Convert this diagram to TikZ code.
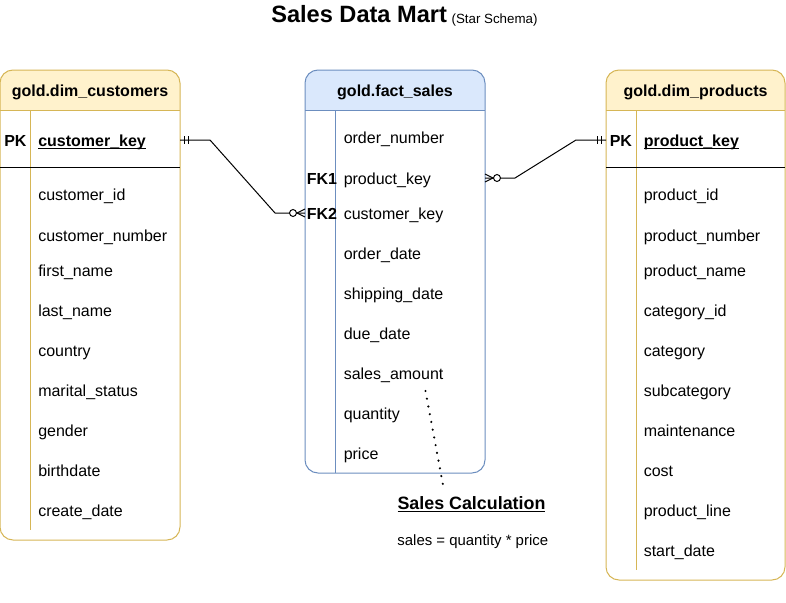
\documentclass[tikz,border=0pt]{standalone}
\usepackage{fontspec}
\setmainfont{Liberation Sans}
\usetikzlibrary{positioning,calc,fit}
\definecolor{dimfill}{HTML}{FFF2CC}
\definecolor{dimline}{HTML}{D6B656}
\definecolor{factfill}{HTML}{DAE8FC}
\definecolor{factline}{HTML}{6C8EBF}
\tikzset{
  tbl/.style      = {draw, line width=0.75pt, rounded corners=9.75pt,
                     inner sep=0pt, outer sep=0pt},
  field/.style    = {anchor=west, inner sep=0pt, text height=11pt, text depth=1.5pt,
                     font=\fontsize{12}{14}\selectfont},
  keytag/.style   = {field, font=\fontsize{12}{14}\selectfont\bfseries},
  head/.style     = {inner sep=0pt, text height=11pt, text depth=1.5pt,
                     font=\fontsize{12}{14}\selectfont\bfseries},
  rel/.style      = {line width=0.75pt},
  notelink/.style = {line width=1.8pt, line cap=round, dash pattern=on 0pt off 5.9pt},
}
% underline that sits just under the baseline
\newcommand{\keyline}[1]{\setbox0\hbox{#1}\rlap{\copy0}\rule[-2pt]{\wd0}{0.9pt}}
% relation ends: #1 point on the table border, #2 = +1 / -1 pointing away from it
\newcommand{\mandone}[2]{%
  \foreach \d in {4.5,8.5} \draw[rel] ($(#1)+(#2*\d,-4)$) -- ++(0,8);
}
\newcommand{\zeromany}[2]{%
  \draw[rel] ($(#1)+(0,-4)$) -- ($(#1)+(#2*8,0)$) -- ($(#1)+(0,4)$);
  \draw[rel, fill=white] ($(#1)+(#2*12,0)$) circle (2.6pt);
}

\begin{document}
\begin{tikzpicture}[x=0.75pt, y=-0.75pt]
    \useasboundingbox (0,0) rectangle (786,603);

    \node[anchor=base west, inner sep=0pt, font=\fontsize{17.7}{20}\selectfont\bfseries]
         (title) at (271,22) {Sales Data Mart};
    \node[base right=3pt of title, inner sep=0pt, yshift=-0.75pt,
          font=\fontsize{10}{12}\selectfont] (subtitle) {(Star Schema)};

    % header bands
    \foreach \l/\r/\col in {0/180/dim, 305/485/fact, 606/785/dim}{
      \fill[\col fill, rounded corners=9.75pt] (\l,70) rectangle (\r,110);
      \fill[\col fill] (\l,90) rectangle (\r,110);
      \draw[\col line, rel] (\l,110) -- (\r,110);
    }

    % table frames
    \node[tbl, draw=dimline, fit={(0,70) (180,540)}] (cust) {};
    \node[tbl, draw=factline, fit={(305,70) (485,473)}] (fact) {};
    \node[tbl, draw=dimline, fit={(606,70) (785,580)}] (prod) {};

    \draw[dimline, rel] (30,110) -- (30,530);
    \draw[factline, rel] (335.5,110) -- (335.5,473);
    \draw[dimline, rel] (636,110) -- (636,570);
    \draw[rel] (0,167.5) -- (180,167.5);
    \draw[rel] (606,167.5) -- (785,167.5);

    \node[head] (cust-head) at (90,90.5) {gold.dim\_customers};
    \node[head] (fact-head) at (395,90.5) {gold.fact\_sales};
    \node[head] (prod-head) at (695.5,90.5) {gold.dim\_products};

    % customers
    \node[keytag] (cust-pk) at (4,140) {PK};
    \node[field] (cust-key) at (38,140) {\keyline{\bfseries customer\_key}};
    \foreach \y/\t [count=\i] in {194.5/customer\_id, 235/customer\_number,
        270/first\_name, 310/last\_name, 350/country, 390/marital\_status,
        430/gender, 470/birthdate, 510/create\_date}
      \node[field] (cust-\i) at (38,\y) {\t};

    % facts
    \foreach \y/\t [count=\i] in {137.5/order\_number, 178/product\_key,
        213/customer\_key, 253/order\_date, 293/shipping\_date, 333/due\_date,
        373/sales\_amount, 413/quantity, 453/price}
      \node[field] (fact-\i) at (343.5,\y) {\t};
    \node[keytag] (fact-fk1) at (306.5,178) {FK1};
    \node[keytag] (fact-fk2) at (306.5,213) {FK2};

    % products
    \node[keytag] (prod-pk) at (609.5,140) {PK};
    \node[field] (prod-key) at (643.5,140) {\keyline{\bfseries product\_key}};
    \foreach \y/\t [count=\i] in {194.5/product\_id, 235/product\_number,
        270/product\_name, 310/category\_id, 350/category, 390/subcategory,
        430/maintenance, 470/cost, 510/product\_line, 550/start\_date}
      \node[field] (prod-\i) at (643.5,\y) {\t};

    % relations
    \coordinate (ck-end) at (cust.east |- cust-key);
    \coordinate (fk2-end) at (fact.west |- fact-fk2);
    \draw[rel] (ck-end) -- ++(30,0) -- ($(fk2-end)+(-30,0)$) -- (fk2-end);
    \mandone{ck-end}{1}
    \zeromany{fk2-end}{-1}

    \coordinate (fk1-end) at (fact.east |- fact-2);
    \coordinate (pk-end) at (prod.west |- prod-key);
    \draw[rel] (fk1-end) -- ++(30,0) -- ($(pk-end)+(-30,0)$) -- (pk-end);
    \zeromany{fk1-end}{1}
    \mandone{pk-end}{-1}

    % note on the measure
    \node[anchor=base, inner sep=0pt, font=\fontsize{13.4}{16}\selectfont\bfseries]
         (calc-head) at (471.5,509.5) {\keyline{Sales Calculation}};
    \node[anchor=base, inner sep=0pt, font=\fontsize{11.2}{13}\selectfont]
         (calc-text) at (472.8,545.5) {sales = quantity * price};
    \coordinate (amt-pin) at (425.5,391);
    \coordinate (calc-pin) at ($(calc-head.north)+(-27.5,-6)$);
    \draw[notelink] (amt-pin) -- (calc-pin);
\end{tikzpicture}
\end{document}
